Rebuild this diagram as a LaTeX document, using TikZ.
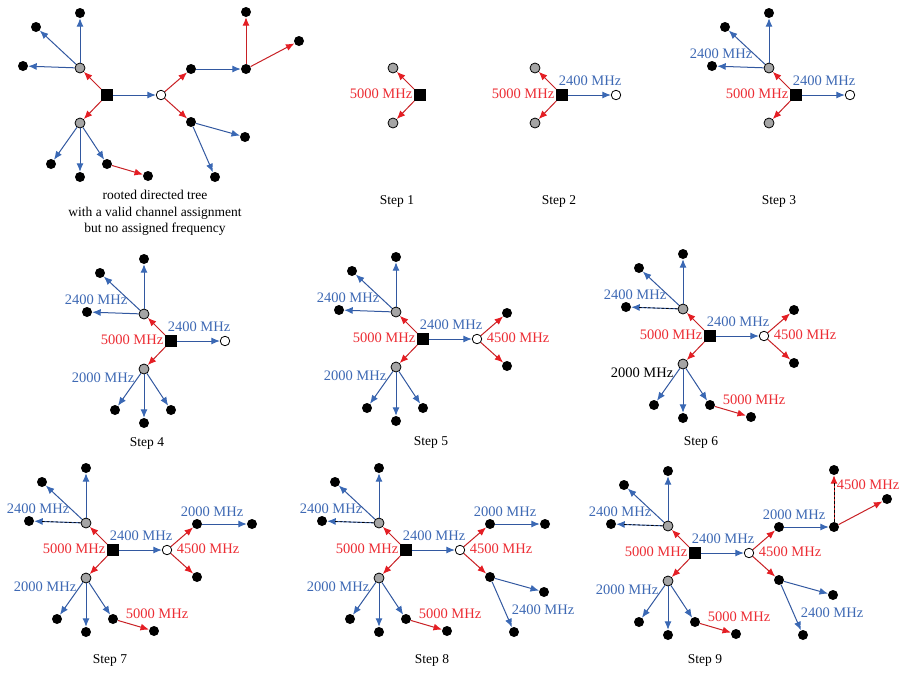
\documentclass[tikz,border=0pt]{standalone}
\usepackage{fontspec}
\setmainfont{Liberation Serif}
\usetikzlibrary{arrows.meta}
\definecolor{edgered}{RGB}{200,32,36}
\definecolor{tipred}{RGB}{228,30,36}
\definecolor{edgeblue}{RGB}{50,88,160}
\definecolor{tipblue}{RGB}{58,104,180}
\definecolor{labred}{RGB}{236,45,52}
\definecolor{labblue}{RGB}{62,105,180}
\definecolor{nodegray}{RGB}{165,165,165}
\tikzset{
    rootbox/.style={rectangle,fill=black,minimum size=11.5pt,inner sep=0pt},
    graydot/.style={circle,draw=black,line width=0.8pt,fill=nodegray,minimum size=10pt,inner sep=0pt},
    whitedot/.style={circle,draw=black,line width=0.8pt,fill=white,minimum size=9.5pt,inner sep=0pt},
    leaf/.style={circle,fill=black,minimum size=10pt,inner sep=0pt},
    redarrow/.style={-{Latex[length=8.5pt,width=7pt,color=tipred]},edgered,line width=1pt},
    bluearrow/.style={-{Latex[length=8.5pt,width=7pt,color=tipblue]},edgeblue,line width=1pt},
    dashover/.style={postaction={draw=black,line width=0.7pt,dash pattern=on 2.5pt off 2pt,-,shorten >=7pt}},
    lab/.style={font=\fontsize{14.5}{16}\selectfont,inner sep=0pt},
    redlab/.style={lab,text=labred},
    bluelab/.style={lab,text=labblue},
    blacklab/.style={lab,text=black},
    caption/.style={font=\fontsize{13.5}{16.5}\selectfont,align=center,inner sep=0pt}
}

\begin{document}
\begin{tikzpicture}[x=1pt,y=-1pt]
    \useasboundingbox (0,0) rectangle (906,673);

    % full tree
    \begin{scope}[shift={(107,95)},name prefix=t0-]
        \node[rootbox] (R) at (0,0) {};
        \node[graydot] (G1) at (-27,-27) {};
        \node[graydot] (G2) at (-27,28) {};
        \node[whitedot] (W) at (54,0) {};
        \node[leaf] (U1) at (-27,-82) {};
        \node[leaf] (U2) at (-71,-68) {};
        \node[leaf] (U3) at (-84,-29) {};
        \node[leaf] (D1) at (-56,69) {};
        \node[leaf] (D2) at (-27,82) {};
        \node[leaf] (D3) at (0,69) {};
        \node[leaf] (D4) at (41,81) {};
        \node[leaf] (A) at (84,-26) {};
        \node[leaf] (B) at (84,27) {};
        \node[leaf] (A2) at (139,-26) {};
        \node[leaf] (A3) at (139,-83) {};
        \node[leaf] (A4) at (192,-54) {};
        \node[leaf] (B1) at (138,42) {};
        \node[leaf] (B2) at (108,82) {};
        \draw[redarrow] (R)--(G1);
        \draw[redarrow] (R)--(G2);
        \draw[bluearrow] (R)--(W);
        \draw[bluearrow] (G1)--(U1);
        \draw[bluearrow] (G1)--(U2);
        \draw[bluearrow] (G1)--(U3);
        \draw[bluearrow] (G2)--(D1);
        \draw[bluearrow] (G2)--(D2);
        \draw[bluearrow] (G2)--(D3);
        \draw[redarrow] (D3)--(D4);
        \draw[redarrow] (W)--(A);
        \draw[redarrow] (W)--(B);
        \draw[bluearrow] (A)--(A2);
        \draw[redarrow] (A2)--(A3);
        \draw[redarrow] (A2)--(A4);
        \draw[bluearrow] (B)--(B1);
        \draw[bluearrow] (B)--(B2);
    \end{scope}
    \node[caption] (cap0) at (155,213) {rooted directed tree\\with a valid channel assignment\\but no assigned frequency};

    % step 1
    \begin{scope}[shift={(420,95)},name prefix=s1-]
        \node[rootbox] (R) at (0,0) {};
        \node[graydot] (G1) at (-27,-27) {};
        \node[graydot] (G2) at (-27,28) {};
        \draw[redarrow] (R)--(G1);
        \draw[redarrow] (R)--(G2);
        \node[redlab] (l5000) at (-39,-1) {5000 MHz};
    \end{scope}
    \node[caption] (cap1) at (397,201) {Step 1};

    % step 2
    \begin{scope}[shift={(562,95)},name prefix=s2-]
        \node[rootbox] (R) at (0,0) {};
        \node[graydot] (G1) at (-27,-27) {};
        \node[graydot] (G2) at (-27,28) {};
        \node[whitedot] (W) at (54,0) {};
        \draw[redarrow] (R)--(G1);
        \draw[redarrow] (R)--(G2);
        \draw[bluearrow] (R)--(W);
        \node[redlab] (l5000) at (-39,-1) {5000 MHz};
        \node[bluelab] (l2400r) at (28,-14) {2400 MHz};
    \end{scope}
    \node[caption] (cap2) at (559,201) {Step 2};

    % step 3
    \begin{scope}[shift={(796,95)},name prefix=s3-]
        \node[rootbox] (R) at (0,0) {};
        \node[graydot] (G1) at (-27,-27) {};
        \node[graydot] (G2) at (-27,28) {};
        \node[whitedot] (W) at (54,0) {};
        \node[leaf] (U1) at (-27,-82) {};
        \node[leaf] (U2) at (-71,-68) {};
        \node[leaf] (U3) at (-84,-29) {};
        \draw[redarrow] (R)--(G1);
        \draw[redarrow] (R)--(G2);
        \draw[bluearrow] (R)--(W);
        \draw[bluearrow] (G1)--(U1);
        \draw[bluearrow] (G1)--(U2);
        \draw[bluearrow] (G1)--(U3);
        \node[redlab] (l5000) at (-39,-1) {5000 MHz};
        \node[bluelab] (l2400r) at (28,-14) {2400 MHz};
        \node[bluelab] (l2400u) at (-75,-41) {2400 MHz};
    \end{scope}
    \node[caption] (cap3) at (779,201) {Step 3};

    % step 4
    \begin{scope}[shift={(171,341)},name prefix=s4-]
        \node[rootbox] (R) at (0,0) {};
        \node[graydot] (G1) at (-27,-27) {};
        \node[graydot] (G2) at (-27,28) {};
        \node[whitedot] (W) at (54,0) {};
        \node[leaf] (U1) at (-27,-82) {};
        \node[leaf] (U2) at (-71,-68) {};
        \node[leaf] (U3) at (-84,-29) {};
        \node[leaf] (D1) at (-56,69) {};
        \node[leaf] (D2) at (-27,82) {};
        \node[leaf] (D3) at (0,69) {};
        \draw[redarrow] (R)--(G1);
        \draw[redarrow] (R)--(G2);
        \draw[bluearrow] (R)--(W);
        \draw[bluearrow] (G1)--(U1);
        \draw[bluearrow] (G1)--(U2);
        \draw[bluearrow] (G1)--(U3);
        \draw[bluearrow] (G2)--(D1);
        \draw[bluearrow] (G2)--(D2);
        \draw[bluearrow] (G2)--(D3);
        \node[redlab] (l5000) at (-39,-1) {5000 MHz};
        \node[bluelab] (l2400r) at (28,-14) {2400 MHz};
        \node[bluelab] (l2400u) at (-75,-41) {2400 MHz};
        \node[bluelab] (l2000d) at (-68,37) {2000 MHz};
    \end{scope}
    \node[caption] (cap4) at (147,443) {Step 4};

    % step 5
    \begin{scope}[shift={(423,339)},name prefix=s5-]
        \node[rootbox] (R) at (0,0) {};
        \node[graydot] (G1) at (-27,-27) {};
        \node[graydot] (G2) at (-27,28) {};
        \node[whitedot] (W) at (54,0) {};
        \node[leaf] (U1) at (-27,-82) {};
        \node[leaf] (U2) at (-71,-68) {};
        \node[leaf] (U3) at (-84,-29) {};
        \node[leaf] (D1) at (-56,69) {};
        \node[leaf] (D2) at (-27,82) {};
        \node[leaf] (D3) at (0,69) {};
        \node[leaf] (A) at (84,-26) {};
        \node[leaf] (B) at (84,27) {};
        \draw[redarrow] (R)--(G1);
        \draw[redarrow] (R)--(G2);
        \draw[bluearrow] (R)--(W);
        \draw[bluearrow] (G1)--(U1);
        \draw[bluearrow] (G1)--(U2);
        \draw[bluearrow] (G1)--(U3);
        \draw[bluearrow] (G2)--(D1);
        \draw[bluearrow] (G2)--(D2);
        \draw[bluearrow] (G2)--(D3);
        \draw[redarrow] (W)--(A);
        \draw[redarrow] (W)--(B);
        \node[redlab] (l5000) at (-39,-1) {5000 MHz};
        \node[bluelab] (l2400r) at (28,-14) {2400 MHz};
        \node[bluelab] (l2400u) at (-75,-41) {2400 MHz};
        \node[bluelab] (l2000d) at (-68,37) {2000 MHz};
        \node[redlab] (l4500) at (95,-1) {4500 MHz};
    \end{scope}
    \node[caption] (cap5) at (431,442) {Step 5};

    % step 6
    \begin{scope}[shift={(710,336)},name prefix=s6-]
        \node[rootbox] (R) at (0,0) {};
        \node[graydot] (G1) at (-27,-27) {};
        \node[graydot] (G2) at (-27,28) {};
        \node[whitedot] (W) at (54,0) {};
        \node[leaf] (U1) at (-27,-82) {};
        \node[leaf] (U2) at (-71,-68) {};
        \node[leaf] (U3) at (-84,-29) {};
        \node[leaf] (D1) at (-56,69) {};
        \node[leaf] (D2) at (-27,82) {};
        \node[leaf] (D3) at (0,69) {};
        \node[leaf] (D4) at (41,81) {};
        \node[leaf] (A) at (84,-26) {};
        \node[leaf] (B) at (84,27) {};
        \draw[redarrow] (R)--(G1);
        \draw[redarrow] (R)--(G2);
        \draw[bluearrow] (R)--(W);
        \draw[bluearrow] (G1)--(U1);
        \draw[bluearrow] (G1)--(U2);
        \draw[bluearrow,dashover] (G1)--(U3);
        \draw[bluearrow] (G2)--(D1);
        \draw[bluearrow] (G2)--(D2);
        \draw[bluearrow] (G2)--(D3);
        \draw[redarrow] (D3)--(D4);
        \draw[redarrow] (W)--(A);
        \draw[redarrow] (W)--(B);
        \node[redlab] (l5000) at (-39,-1) {5000 MHz};
        \node[bluelab] (l2400r) at (28,-14) {2400 MHz};
        \node[bluelab] (l2400u) at (-75,-41) {2400 MHz};
        \node[blacklab] (l2000d) at (-68,37) {2000 MHz};
        \node[redlab] (l4500) at (95,-1) {4500 MHz};
        \node[redlab] (l5000d) at (44,64) {5000 MHz};
    \end{scope}
    \node[caption] (cap6) at (701,442) {Step 6};

    % step 7
    \begin{scope}[shift={(113,550)},name prefix=s7-]
        \node[rootbox] (R) at (0,0) {};
        \node[graydot] (G1) at (-27,-27) {};
        \node[graydot] (G2) at (-27,28) {};
        \node[whitedot] (W) at (54,0) {};
        \node[leaf] (U1) at (-27,-82) {};
        \node[leaf] (U2) at (-71,-68) {};
        \node[leaf] (U3) at (-84,-29) {};
        \node[leaf] (D1) at (-56,69) {};
        \node[leaf] (D2) at (-27,82) {};
        \node[leaf] (D3) at (0,69) {};
        \node[leaf] (D4) at (41,81) {};
        \node[leaf] (A) at (84,-26) {};
        \node[leaf] (B) at (84,27) {};
        \node[leaf] (A2) at (139,-26) {};
        \draw[redarrow] (R)--(G1);
        \draw[redarrow] (R)--(G2);
        \draw[bluearrow] (R)--(W);
        \draw[bluearrow] (G1)--(U1);
        \draw[bluearrow] (G1)--(U2);
        \draw[bluearrow,dashover] (G1)--(U3);
        \draw[bluearrow] (G2)--(D1);
        \draw[bluearrow] (G2)--(D2);
        \draw[bluearrow] (G2)--(D3);
        \draw[redarrow] (D3)--(D4);
        \draw[redarrow] (W)--(A);
        \draw[redarrow] (W)--(B);
        \draw[bluearrow] (A)--(A2);
        \node[redlab] (l5000) at (-39,-1) {5000 MHz};
        \node[bluelab] (l2400r) at (28,-14) {2400 MHz};
        \node[bluelab] (l2400u) at (-75,-41) {2400 MHz};
        \node[bluelab] (l2000d) at (-68,37) {2000 MHz};
        \node[redlab] (l4500) at (95,-1) {4500 MHz};
        \node[redlab] (l5000d) at (44,64) {5000 MHz};
        \node[bluelab] (l2000a) at (99,-38) {2000 MHz};
    \end{scope}
    \node[caption] (cap7) at (110,660) {Step 7};

    % step 8
    \begin{scope}[shift={(406,550)},name prefix=s8-]
        \node[rootbox] (R) at (0,0) {};
        \node[graydot] (G1) at (-27,-27) {};
        \node[graydot] (G2) at (-27,28) {};
        \node[whitedot] (W) at (54,0) {};
        \node[leaf] (U1) at (-27,-82) {};
        \node[leaf] (U2) at (-71,-68) {};
        \node[leaf] (U3) at (-84,-29) {};
        \node[leaf] (D1) at (-56,69) {};
        \node[leaf] (D2) at (-27,82) {};
        \node[leaf] (D3) at (0,69) {};
        \node[leaf] (D4) at (41,81) {};
        \node[leaf] (A) at (84,-26) {};
        \node[leaf] (B) at (84,27) {};
        \node[leaf] (A2) at (139,-26) {};
        \node[leaf] (B1) at (138,42) {};
        \node[leaf] (B2) at (108,82) {};
        \draw[redarrow] (R)--(G1);
        \draw[redarrow] (R)--(G2);
        \draw[bluearrow] (R)--(W);
        \draw[bluearrow] (G1)--(U1);
        \draw[bluearrow] (G1)--(U2);
        \draw[bluearrow,dashover] (G1)--(U3);
        \draw[bluearrow] (G2)--(D1);
        \draw[bluearrow] (G2)--(D2);
        \draw[bluearrow] (G2)--(D3);
        \draw[redarrow] (D3)--(D4);
        \draw[redarrow] (W)--(A);
        \draw[redarrow] (W)--(B);
        \draw[bluearrow] (A)--(A2);
        \draw[bluearrow] (B)--(B1);
        \draw[bluearrow] (B)--(B2);
        \node[redlab] (l5000) at (-39,-1) {5000 MHz};
        \node[bluelab] (l2400r) at (28,-14) {2400 MHz};
        \node[bluelab] (l2400u) at (-75,-41) {2400 MHz};
        \node[bluelab] (l2000d) at (-68,37) {2000 MHz};
        \node[redlab] (l4500) at (95,-1) {4500 MHz};
        \node[redlab] (l5000d) at (44,64) {5000 MHz};
        \node[bluelab] (l2000a) at (99,-38) {2000 MHz};
        \node[bluelab] (l2400b) at (137,60) {2400 MHz};
    \end{scope}
    \node[caption] (cap8) at (432,660) {Step 8};

    % step 9
    \begin{scope}[shift={(695,553)},name prefix=s9-]
        \node[rootbox] (R) at (0,0) {};
        \node[graydot] (G1) at (-27,-27) {};
        \node[graydot] (G2) at (-27,28) {};
        \node[whitedot] (W) at (54,0) {};
        \node[leaf] (U1) at (-27,-82) {};
        \node[leaf] (U2) at (-71,-68) {};
        \node[leaf] (U3) at (-84,-29) {};
        \node[leaf] (D1) at (-56,69) {};
        \node[leaf] (D2) at (-27,82) {};
        \node[leaf] (D3) at (0,69) {};
        \node[leaf] (D4) at (41,81) {};
        \node[leaf] (A) at (84,-26) {};
        \node[leaf] (B) at (84,27) {};
        \node[leaf] (A2) at (139,-26) {};
        \node[leaf] (A3) at (139,-83) {};
        \node[leaf] (A4) at (192,-54) {};
        \node[leaf] (B1) at (138,42) {};
        \node[leaf] (B2) at (108,82) {};
        \draw[redarrow] (R)--(G1);
        \draw[redarrow] (R)--(G2);
        \draw[bluearrow] (R)--(W);
        \draw[bluearrow] (G1)--(U1);
        \draw[bluearrow] (G1)--(U2);
        \draw[bluearrow,dashover] (G1)--(U3);
        \draw[bluearrow] (G2)--(D1);
        \draw[bluearrow] (G2)--(D2);
        \draw[bluearrow] (G2)--(D3);
        \draw[redarrow] (D3)--(D4);
        \draw[redarrow] (W)--(A);
        \draw[redarrow] (W)--(B);
        \draw[bluearrow] (A)--(A2);
        \draw[redarrow,dashover] (A2)--(A3);
        \draw[redarrow] (A2)--(A4);
        \draw[bluearrow] (B)--(B1);
        \draw[bluearrow] (B)--(B2);
        \node[redlab] (l5000) at (-39,-1) {5000 MHz};
        \node[bluelab] (l2400r) at (28,-14) {2400 MHz};
        \node[bluelab] (l2400u) at (-75,-41) {2400 MHz};
        \node[bluelab] (l2000d) at (-68,37) {2000 MHz};
        \node[redlab] (l4500) at (95,-1) {4500 MHz};
        \node[redlab] (l5000d) at (44,64) {5000 MHz};
        \node[bluelab] (l2000a) at (99,-38) {2000 MHz};
        \node[bluelab] (l2400b) at (137,60) {2400 MHz};
        \node[redlab] (l4500a) at (173,-68) {4500 MHz};
    \end{scope}
    \node[caption] (cap9) at (705,660) {Step 9};
\end{tikzpicture}
\end{document}
